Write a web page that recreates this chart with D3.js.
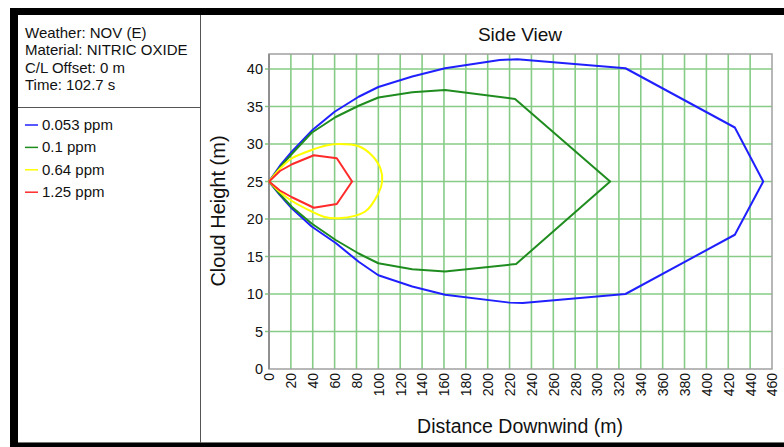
<!DOCTYPE html>
<html>
<head>
<meta charset="utf-8">
<script src="https://cdnjs.cloudflare.com/ajax/libs/d3/7.8.5/d3.min.js"></script>
<style>
  body { margin: 0; background: #fff; }
  svg { display: block; font-family: Arial, 'Liberation Sans', sans-serif; }
</style>
</head>
<body>
<div id="chart"></div>
<script>
// info panel + legend
const infoLines = ['Weather: NOV (E)', 'Material: NITRIC OXIDE', 'C/L Offset: 0 m', 'Time: 102.7 s'];
const seriesNames = ['0.053 ppm', '0.1 ppm', '0.64 ppm', '1.25 ppm'];
const seriesColors = ['#2020ff', '#1f8c1f', '#ffff00', '#ff2a2a'];

// axis ticks
const xTicks = [0, 20, 40, 60, 80, 100, 120, 140, 160, 180, 200, 220, 240, 260, 280, 300, 320, 340, 360, 380, 400, 420, 440, 460];
const yTicks = [0, 5, 10, 15, 20, 25, 30, 35, 40];

// footprint outlines: [distance downwind (m), height (m)]
const ppm0053 = [[0, 25], [10, 27.1], [21, 29], [40, 31.9], [60, 34.3], [82, 36.3], [100, 37.6], [131, 39], [161, 40.1],
  [211, 41.2], [227, 41.3], [326, 40.1], [426, 32.2], [452, 25], [426, 17.9], [326, 10], [232, 8.8], [220, 8.85],
  [161, 9.9], [131, 11], [100, 12.5], [82, 14.3], [61, 16.8], [39, 19], [21, 21.4], [10, 23.2], [0, 25]];
const ppm01 = [[0, 25], [10, 26.9], [21, 28.7], [39, 31.5], [61, 33.6], [82, 35.1], [100, 36.2], [131, 36.9], [161, 37.2],
  [225, 36], [312, 25], [226, 14], [161, 13], [131, 13.3], [100, 14.1], [82, 15.4], [61, 17.2], [39, 19.4], [21, 21.6],
  [10, 23.3], [0, 25]];
const ppm064 = [[0, 25], [10, 26.7], [21, 28.1], [39, 29.2], [52, 29.8], [64, 30], [82, 29.7], [94, 28.5], [102, 26.7],
  [103.5, 25], [100, 23.4], [88, 21], [64, 20.1], [50, 20.3], [39, 21], [21, 22.4], [10, 23.6], [0, 25]];
const ppm125 = [[0, 25], [10, 26.4], [21, 27.3], [41, 28.5], [62, 28.1], [76, 25], [62, 22], [41, 21.5], [21, 22.9],
  [10, 23.8], [0, 25]];

const series = [ppm0053, ppm01, ppm064, ppm125];

const W = 784, H = 447;
const plot = { left: 269, right: 772, top: 54, bottom: 369 };
const FONT = 'Arial, Liberation Sans, sans-serif';

const svg = d3.select('#chart').append('svg')
  .attr('width', W)
  .attr('height', H);

svg.append('rect').attr('width', W).attr('height', H).attr('fill', '#fff');

// outer black frame
svg.append('rect').attr('x', 10).attr('y', 8).attr('width', W - 10).attr('height', 7).attr('fill', '#000');
svg.append('rect').attr('x', 10).attr('y', 8).attr('width', 8).attr('height', H - 8).attr('fill', '#000');
svg.append('rect').attr('x', 10).attr('y', 443).attr('width', W - 10).attr('height', 4).attr('fill', '#000');
svg.append('line').attr('x1', 18).attr('x2', W).attr('y1', 442.5).attr('y2', 442.5).attr('stroke', '#777');

// left panel dividers
svg.append('line').attr('x1', 200.5).attr('x2', 200.5).attr('y1', 15).attr('y2', 443).attr('stroke', '#555');
svg.append('line').attr('x1', 18).attr('x2', 200).attr('y1', 107.5).attr('y2', 107.5).attr('stroke', '#555');

svg.append('g').selectAll('text')
  .data(infoLines)
  .enter().append('text')
  .attr('x', 25)
  .attr('y', (d, i) => 38 + i * 17.3)
  .attr('font-size', '15px')
  .attr('fill', '#111')
  .text(d => d);

const legend = svg.append('g').selectAll('g')
  .data(seriesNames)
  .enter().append('g')
  .attr('transform', (d, i) => `translate(25,${125 + i * 22.4})`);
legend.append('line').attr('x1', 0).attr('x2', 13).attr('stroke', (d, i) => seriesColors[i]).attr('stroke-width', 1.5);
legend.append('text').attr('x', 17).attr('y', 5).attr('font-size', '15px').attr('fill', '#111').text(d => d);

const x = d3.scaleLinear().domain([0, 460]).range([plot.left, plot.right]);
const y = d3.scaleLinear().domain([0, 42]).range([plot.bottom, plot.top]);

// grid
const grid = svg.append('g').attr('stroke', '#86cc86').attr('stroke-width', 1.6);
grid.selectAll('.vx')
  .data(xTicks.filter(d => d > 0 && d < 460))
  .enter().append('line')
  .attr('x1', d => x(d)).attr('x2', d => x(d))
  .attr('y1', plot.top).attr('y2', plot.bottom);
grid.selectAll('.hy')
  .data(yTicks.filter(d => d > 0))
  .enter().append('line')
  .attr('x1', plot.left - 4).attr('x2', plot.right)
  .attr('y1', d => y(d)).attr('y2', d => y(d));

// plot frame
svg.append('rect')
  .attr('x', plot.left).attr('y', plot.top)
  .attr('width', plot.right - plot.left).attr('height', plot.bottom - plot.top)
  .attr('fill', 'none').attr('stroke', '#a0a0a0').attr('stroke-width', 1.5);
svg.append('line')
  .attr('x1', plot.left).attr('x2', plot.left).attr('y1', plot.top).attr('y2', plot.bottom)
  .attr('stroke', '#909090').attr('stroke-width', 2);

// axes
const yAxis = svg.append('g')
  .attr('transform', `translate(${plot.left},0)`)
  .call(d3.axisLeft(y).tickValues(yTicks).tickSize(0).tickPadding(6));
yAxis.select('.domain').remove();
yAxis.selectAll('text').attr('font-size', '14.5px').attr('fill', '#111').style('font-family', FONT);

const xAxis = svg.append('g')
  .attr('transform', `translate(0,${plot.bottom})`)
  .call(d3.axisBottom(x).tickValues(xTicks).tickSize(0));
xAxis.select('.domain').remove();
xAxis.selectAll('text')
  .attr('x', -4).attr('y', 0).attr('dy', '0.35em')
  .attr('transform', 'rotate(-90)')
  .style('text-anchor', 'end')
  .style('font-family', FONT)
  .attr('font-size', '14px').attr('fill', '#111');

// titles
svg.append('text').attr('x', 520).attr('y', 41).attr('text-anchor', 'middle')
  .attr('font-size', '19px').attr('fill', '#111').text('Side View');
svg.append('text').attr('x', 520).attr('y', 433).attr('text-anchor', 'middle')
  .attr('font-size', '19.5px').attr('fill', '#111').text('Distance Downwind (m)');
svg.append('text').attr('transform', 'translate(225,211) rotate(-90)').attr('text-anchor', 'middle')
  .attr('font-size', '20px').attr('fill', '#111').text('Cloud Height (m)');

// outlines
const line = d3.line()
  .x(d => x(d[0]))
  .y(d => y(d[1]));

svg.append('g').selectAll('path')
  .data(series)
  .enter().append('path')
  .attr('fill', 'none')
  .attr('stroke', (d, i) => seriesColors[i])
  .attr('stroke-width', 2)
  .attr('stroke-linejoin', 'round')
  .attr('d', (d, i) => i === 2 ? line.curve(d3.curveCatmullRom)(d) : line.curve(d3.curveLinear)(d));
</script>
</body>
</html>
